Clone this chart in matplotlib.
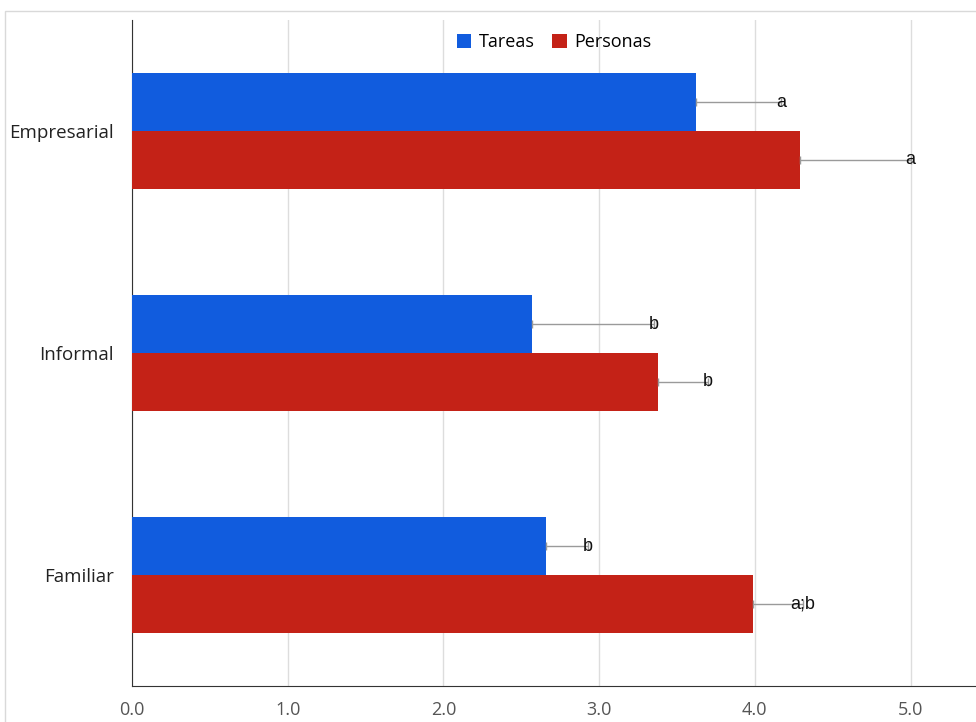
import matplotlib.pyplot as plt
import matplotlib.patches as mpatches
import numpy as np

# Data
categories = ["Empresarial", "Informal", "Familiar"]
tareas = [3.62, 2.57, 2.66]
tareas_err = [0.55, 0.78, 0.27]
tareas_sig = ["a", "b", "b"]
personas = [4.29, 3.38, 3.99]
personas_err = [0.71, 0.32, 0.32]
personas_sig = ["a", "b", "a;b"]
x_ticks = [0.0, 1.0, 2.0, 3.0, 4.0, 5.0]

BLUE = "#115CDE"
RED = "#C42217"

fig = plt.figure(figsize=(9.76, 7.22), dpi=100)
ax = fig.add_axes([0.1352, 0.0499, 0.8648, 0.9224])

# outer light frame of the chart
fig.patches.append(mpatches.Rectangle((0.005, -0.05), 1.2, 1.035, transform=fig.transFigure,
                                      fill=False, edgecolor="#d9d9d9", linewidth=1.0))

y = np.arange(len(categories))[::-1].astype(float)
h = 0.261

err_kw = dict(ecolor="#9a9a9a", elinewidth=1.0, capsize=3, capthick=1.0)
ax.barh(y + h / 2, tareas, height=h, color=BLUE, label="Tareas",
        xerr=[np.zeros(len(tareas)), tareas_err], error_kw=err_kw, zorder=3)
ax.barh(y - h / 2, personas, height=h, color=RED, label="Personas",
        xerr=[np.zeros(len(personas)), personas_err], error_kw=err_kw, zorder=3)

# significance letters sit near the end of each error bar
for yi, v, e, s in zip(y + h / 2, tareas, tareas_err, tareas_sig):
    ax.text(v + e, yi, s, ha="center", va="center", fontsize=13,
            family="Liberation Sans", color="#111111", zorder=4)
for yi, v, e, s in zip(y - h / 2, personas, personas_err, personas_sig):
    ax.text(v + e, yi, s, ha="center", va="center", fontsize=13,
            family="Liberation Sans", color="#111111", zorder=4)

ax.set_xlim(0, 5.42)
ax.set_ylim(-0.5, 2.5)
ax.set_xticks(x_ticks)
ax.set_xticklabels([f"{t:.1f}" for t in x_ticks], family="Open Sans", fontsize=13, color="#555555")
ax.set_yticks(y)
ax.set_yticklabels(categories, family="Open Sans", fontsize=13.5, color="#222222")
ax.tick_params(axis="both", length=0)
ax.tick_params(axis="x", pad=11)
ax.tick_params(axis="y", pad=13)

ax.grid(axis="x", color="#dddddd", linewidth=1.0, zorder=0)
ax.set_axisbelow(True)
for side in ["top", "right"]:
    ax.spines[side].set_visible(False)
ax.spines["left"].set_color("#333333")
ax.spines["bottom"].set_color("#333333")

ax.legend(loc="upper center", bbox_to_anchor=(0.5, 1.005), ncol=2, frameon=False,
          prop={"family": "Open Sans", "size": 13}, handlelength=0.8, handleheight=0.8,
          handletextpad=0.4, columnspacing=1.0)

fig.savefig("out.png", dpi=100)
